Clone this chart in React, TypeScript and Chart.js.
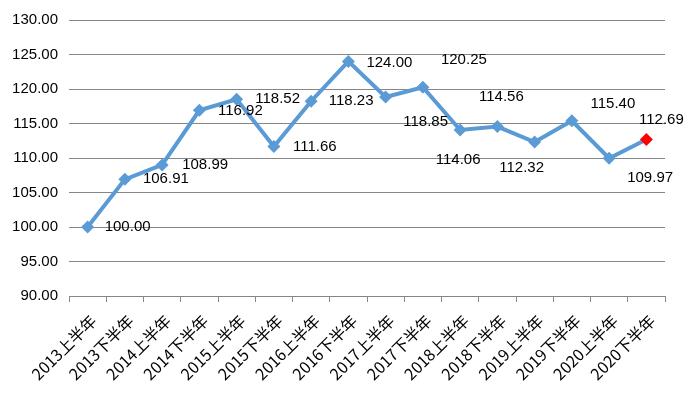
import React, { useEffect, useRef } from "react";
import { Chart, registerables } from "chart.js";

Chart.register(...registerables);

const categories = [
  "2013上半年", "2013下半年", "2014上半年", "2014下半年",
  "2015上半年", "2015下半年", "2016上半年", "2016下半年",
  "2017上半年", "2017下半年", "2018上半年", "2018下半年",
  "2019上半年", "2019下半年", "2020上半年", "2020下半年",
];

const values = [
  100.0, 106.91, 108.99, 116.92, 118.52, 111.66, 118.23, 124.0,
  118.85, 120.25, 114.06, 114.56, 112.32, 115.4, 109.97, 112.69,
];

const yMin = 90;
const yMax = 130;
const yStep = 5;

// label offsets (px) relative to each point, as placed in the reference
const labelOffsets: [number, number][] = [
  [40, 0], [41, 0], [43, 0], [41, 1], [41, 0], [41, 0], [40, 0], [41, 1],
  [40, 25], [41, -27], [-2, 30], [4, -30], [-13, 26], [41, -17], [41, 20], [15, -20],
];

const lineBlue = "#5B9BD5";
const highlight = "#FF0000";
const fontFamily = "'Liberation Sans', 'Noto Sans CJK SC', sans-serif";

const valueLabelPlugin = {
  id: "valueLabels",
  afterDatasetsDraw(chart: any) {
    const ctx = chart.ctx;
    const meta = chart.getDatasetMeta(0);
    ctx.save();
    ctx.font = `15px ${fontFamily}`;
    ctx.fillStyle = "#000000";
    ctx.textAlign = "center";
    ctx.textBaseline = "middle";
    meta.data.forEach((pt: any, i: number) => {
      const [dx, dy] = labelOffsets[i] || [0, 0];
      ctx.fillText(values[i].toFixed(2), pt.x + dx, pt.y + dy);
    });
    ctx.restore();
  },
};

export default function App() {
  const ref = useRef<HTMLCanvasElement | null>(null);
  useEffect(() => {
    document.body.style.margin = "0";
    if (!ref.current) return;
    const pointColors = values.map((_, i) => (i === values.length - 1 ? highlight : lineBlue));
    const chart = new Chart(ref.current, {
      type: "line",
      data: {
        labels: categories,
        datasets: [
          {
            data: values,
            borderColor: lineBlue,
            borderWidth: 4,
            tension: 0,
            pointStyle: "rectRot",
            pointRadius: 6.5,
            pointHoverRadius: 6.5,
            pointBackgroundColor: pointColors,
            pointBorderColor: pointColors,
            pointBorderWidth: 0,
          },
        ],
      },
      plugins: [valueLabelPlugin],
      options: {
        animation: false,
        responsive: false,
        maintainAspectRatio: false,
        layout: { padding: { top: 18, right: 31, left: 0, bottom: 0 } },
        plugins: {
          legend: { display: false },
          tooltip: { enabled: false },
          title: { display: false },
        },
        scales: {
          x: {
            offset: true,
            grid: {
              offset: true,
              drawOnChartArea: false,
              drawTicks: true,
              tickLength: 6,
              color: "#868686",
            },
            border: { display: true, color: "#868686", width: 1 },
            ticks: {
              autoSkip: false,
              maxRotation: 45,
              minRotation: 45,
              color: "#000000",
              padding: 9,
              labelOffset: 6,
              font: { size: 16, family: "'Noto Sans CJK SC', 'Liberation Sans', sans-serif" },
            },
            afterFit(scale: any) {
              scale.height = 101;
            },
          },
          y: {
            min: yMin,
            max: yMax,
            grid: { drawTicks: false, color: "#868686", lineWidth: 1 },
            border: { display: false },
            ticks: {
              stepSize: yStep,
              padding: 11,
              color: "#000000",
              font: { size: 15, family: fontFamily },
              callback: (v: any) => Number(v).toFixed(2),
            },
            afterFit(scale: any) {
              scale.width = 69;
            },
          },
        },
      },
    });
    return () => chart.destroy();
  }, []);
  return (
    <div style={{ width: 696, height: 397, background: "#fff" }}>
      <canvas ref={ref} width={696} height={397} />
    </div>
  );
}
